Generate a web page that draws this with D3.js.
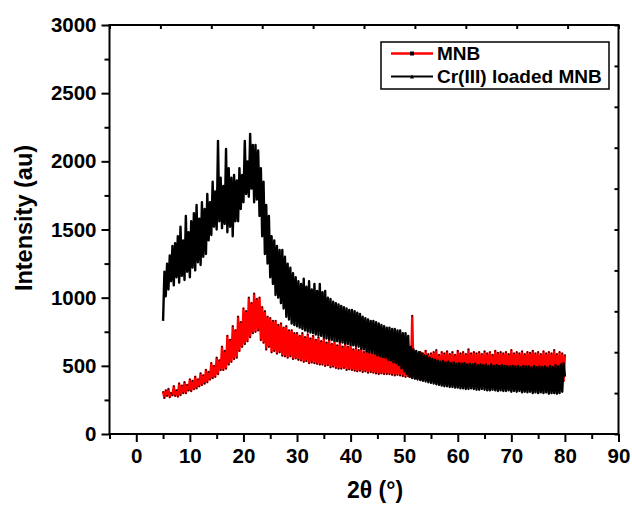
<!DOCTYPE html>
<html><head><meta charset="utf-8">
<script src="https://cdn.jsdelivr.net/npm/d3@7"></script>
<style>
html,body{margin:0;padding:0;background:#fff;}
svg{display:block;font-family:"Liberation Sans",Arial,sans-serif;font-weight:bold;}
</style></head>
<body>
<svg id="chart" width="632" height="505"></svg>
<script>
// ---- data ----
const angleStart = 5, angleStep = 0.25;   // 2θ sampling grid (degrees)
const seriesNames = ["MNB", "Cr(III) loaded MNB"];
const mnbValues = [
310,265,320,280, 330,270,300,285, 350,280,320,275, 370,285,355,300, 380,300,360,320,
400,315,390,330, 420,335,400,350, 445,360,430,370, 470,380,455,400, 520,410,500,420,
560,440,540,470, 640,470,610,480, 720,510,690,530, 790,550,760,560, 860,610,820,640,
920,660,900,680, 1000,710,960,740, 1030,750,990,760, 1000,690,930,670, 900,620,860,640,
850,600,830,610, 830,590,800,600, 810,575,780,570, 790,560,760,570, 760,550,740,555,
740,545,720,540, 740,530,710,535, 730,520,700,525, 720,520,690,515, 710,510,680,510,
700,500,670,505, 690,490,660,495, 680,485,650,480, 670,480,640,485, 660,470,640,475,
650,470,620,465, 630,460,615,465, 620,455,600,460, 610,450,595,455, 600,450,590,445,
600,440,585,445, 600,440,580,440, 600,440,575,435, 600,430,585,435, 600,430,580,425,
610,420,590,425, 600,420,866,430, 600,410,585,415, 600,405,590,410, 610,400,585,405,
590,400,600,395, 615,400,580,405, 600,395,590,400, 605,400,585,395, 600,400,580,395,
610,395,590,400, 600,395,585,400, 620,400,590,395, 600,395,590,400, 600,395,585,400,
605,395,590,400, 600,400,580,395, 610,395,595,400, 600,395,590,400, 600,390,585,395,
615,395,590,400, 600,390,590,395, 605,395,585,390, 600,390,595,395, 610,390,590,395,
600,390,585,395, 605,390,590,395, 600,385,590,390, 615,390,585,395, 600,385,590,390,
580
];
const crValues = [
830,1190,1010,1250, 1060,1310,1120,1380, 1090,1400,1150,1450, 1110,1520,1160,1420, 1130,1600,1190,1480,
1150,1560,1220,1620, 1200,1680,1260,1580, 1240,1700,1300,1650, 1320,1760,1420,1700, 1460,1850,1520,1780,
1500,2150,1560,1880, 1510,1820,1540,2090, 1480,1950,1520,1880, 1450,1900,1560,1860, 1560,1950,1650,1900,
1700,2150,1760,2000, 1740,2200,1800,2120, 1700,2120,1720,2080, 1600,1950,1450,1850, 1320,1680,1250,1600,
1150,1450,1100,1420, 1020,1380,1000,1350, 960,1350,920,1300, 860,1250,840,1220, 810,1180,800,1150,
790,1120,780,1100, 770,1140,760,1080, 750,1120,745,1060, 740,1100,730,1050, 725,1100,720,1040,
710,1050,700,1000, 695,990,690,970, 685,960,680,950, 675,940,670,930, 665,920,660,910,
655,910,650,900, 645,890,640,880, 625,860,620,850, 605,840,600,830, 595,830,590,820,
575,810,570,800, 565,790,560,780, 545,780,540,770, 525,770,520,760, 505,760,480,740,
460,740,440,720, 420,640,410,620, 405,610,400,600, 395,590,390,575, 385,570,380,560,
375,550,370,545, 365,540,360,530, 355,535,350,525, 350,530,345,520, 345,525,340,515,
340,520,335,515, 335,520,330,510, 330,515,335,510, 330,515,325,505, 325,510,330,505,
325,510,320,500, 320,510,325,500, 320,505,315,500, 320,505,315,500, 315,500,320,495,
310,500,315,495, 310,500,315,490, 305,500,310,495, 305,495,310,490, 300,500,305,490,
300,495,305,490, 300,495,305,490, 295,500,300,490, 300,505,295,495, 300,510,310,520,
420
];
const xTicks = [0,10,20,30,40,50,60,70,80,90];
const yTicks = [0,500,1000,1500,2000,2500,3000];
const seriesColors = ["#ff0000", "#000000"];

// ---- layout ----
const svg = d3.select("#chart");
const L = 109.5, R = 618.5, T = 25, B = 434;
const x = d3.scaleLinear().domain([-5, 90]).range([L, R]);
const y = d3.scaleLinear().domain([0, 3000]).range([B, T]);

const toPts = vals => vals.map((v, i) => [angleStart + i * angleStep, v]);
const line = d3.line().x(d => x(d[0])).y(d => y(d[1]));

// MNB (red) with tiny black square markers
const mnb = toPts(mnbValues);
svg.append("path").attr("d", line(mnb)).attr("fill", "none")
  .attr("stroke", seriesColors[0]).attr("stroke-width", 2.4).attr("stroke-linejoin", "round");
svg.append("g").selectAll("rect").data(mnb).join("rect")
  .attr("x", d => x(d[0]) - 0.7).attr("y", d => y(d[1]) - 0.7)
  .attr("width", 1.4).attr("height", 1.4).attr("fill", "#000");

// Cr(III) loaded MNB (black)
const cr = toPts(crValues);
svg.append("path").attr("d", line(cr)).attr("fill", "none")
  .attr("stroke", seriesColors[1]).attr("stroke-width", 2.4).attr("stroke-linejoin", "round");

// ---- axes ----
const yAxis = d3.axisLeft(y).tickValues(yTicks).tickSize(8).tickPadding(5).tickFormat(d3.format("d"));
const yMinor = d3.axisLeft(y).tickValues(d3.range(250, 3000, 500)).tickSize(5).tickFormat("");
const xAxis = d3.axisBottom(x).tickValues(xTicks).tickSize(8).tickPadding(6).tickFormat(d3.format("d"));
const xMinor = d3.axisBottom(x).tickValues(d3.range(-5, 90, 10)).tickSize(5).tickFormat("");
const topAxis = d3.axisBottom(x).tickValues(d3.range(0, 11).map(i => -5 + i * 9.5)).tickSize(4).tickFormat("");
const rightAxis = d3.axisRight(y).tickValues(d3.range(0, 11).map(i => i * 300)).tickSize(4).tickFormat("");

function style(g, fs) {
  g.select(".domain").remove();
  g.selectAll("line").attr("stroke", "#000").attr("stroke-width", 2);
  g.selectAll("text").attr("font-size", fs).attr("font-weight", "bold").attr("fill", "#000")
    .attr("font-family", "Liberation Sans, Arial, sans-serif");
}
svg.append("g").attr("transform", `translate(${L},0)`).call(yAxis).call(g => style(g, 20.5));
svg.append("g").attr("transform", `translate(${L},0)`).call(yMinor).call(g => style(g, 20.5));
svg.append("g").attr("transform", `translate(0,${B})`).call(xAxis).call(g => style(g, 20.5));
svg.append("g").attr("transform", `translate(0,${B})`).call(xMinor).call(g => style(g, 20.5));
svg.append("g").attr("transform", `translate(0,${T})`).call(topAxis).call(g => style(g, 20.5));
svg.append("g").attr("transform", `translate(${R},0)`).call(rightAxis).call(g => style(g, 20.5))
  .selectAll("line").attr("x2", -4);

// frame
svg.append("rect").attr("x", L).attr("y", T).attr("width", R - L).attr("height", B - T)
  .attr("fill", "none").attr("stroke", "#000").attr("stroke-width", 2);

// axis titles
svg.append("text").attr("transform", `translate(32,218) rotate(-90)`).attr("text-anchor", "middle")
  .attr("font-size", 23.5).attr("font-weight", "bold").text("Intensity (au)");
svg.append("text").attr("x", 375).attr("y", 498).attr("text-anchor", "middle")
  .attr("font-size", 23).attr("font-weight", "bold").text("2θ (°)");

// legend
const lg = svg.append("g");
lg.append("rect").attr("x", 381).attr("y", 42).attr("width", 228).attr("height", 47)
  .attr("fill", "#fff").attr("stroke", "#000").attr("stroke-width", 1.5);
const ly = [53.5, 76.5];
seriesNames.forEach((n, i) => {
  lg.append("line").attr("x1", 391).attr("x2", 433).attr("y1", ly[i]).attr("y2", ly[i])
    .attr("stroke", seriesColors[i]).attr("stroke-width", i === 0 ? 2.5 : 2);
  lg.append("text").attr("x", 437).attr("y", ly[i] + 6.5).attr("font-size", 19)
    .attr("font-weight", "bold").text(n);
});
lg.append("rect").attr("x", 410).attr("y", ly[0] - 2).attr("width", 4).attr("height", 4).attr("fill", "#000");
lg.append("path").attr("d", `M410,${ly[1] + 2} L412,${ly[1] - 2} L414,${ly[1] + 2} Z`).attr("fill", "#000");
</script>
</body></html>
